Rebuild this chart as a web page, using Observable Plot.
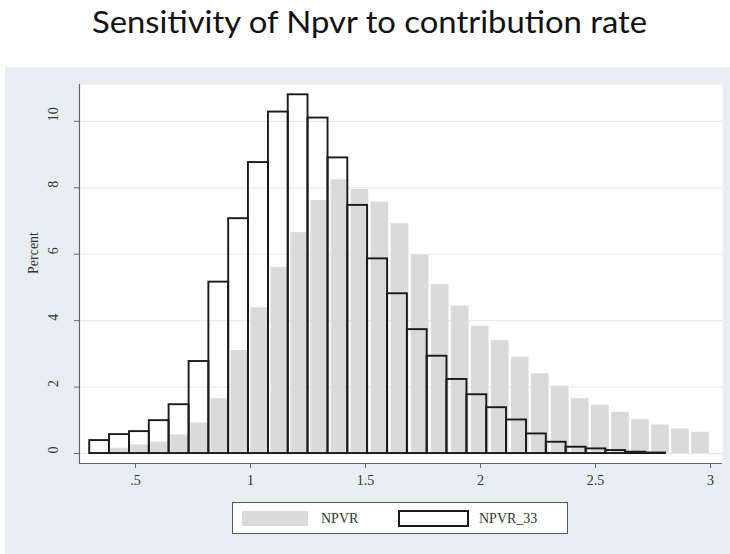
<!DOCTYPE html>
<html>
<head>
<meta charset="utf-8">
<script src="https://cdn.jsdelivr.net/npm/d3@7"></script>
<script src="https://cdn.jsdelivr.net/npm/@observablehq/plot@0.6"></script>
<style>
  html, body { margin: 0; padding: 0; background: #ffffff; }
  #wrap { position: relative; width: 730px; height: 554px; overflow: hidden; background: #fff; }
  #title { position: absolute; left: 0; top: 0; }
  #chart { position: absolute; left: 5px; top: 67px; }
  #legend { position: absolute; left: 232px; top: 502px; width: 334px; height: 30px;
            background: #fff; border: 1px solid #555; box-sizing: content-box; }
  .sw { position: absolute; }
  .lt { position: absolute; font-family: "Liberation Serif", "DejaVu Serif", serif; font-size: 14px; color: #333; line-height: 16px; }
</style>
</head>
<body>
<div id="wrap">
  <svg id="title" width="730" height="67">
    <text x="92" y="33" textLength="555" lengthAdjust="spacingAndGlyphs"
      font-family="Lato, 'Open Sans', sans-serif" font-size="30" fill="#111">Sensitivity of Npvr to contribution rate</text>
  </svg>
  <div id="chart"></div>
  <div id="legend">
    <div class="sw" style="left:9px; top:8px; width:66px; height:15px; background:#dadada;"></div>
    <div class="lt" style="left:88px; top:8px;">NPVR</div>
    <div class="sw" style="left:165px; top:7px; width:67px; height:13px; border:2px solid #1a1a1a; background:#fff;"></div>
    <div class="lt" style="left:246px; top:8px;">NPVR_33</div>
  </div>
</div>
<script>
// ---- data ----
// NPVR (grey bars): lower bin edges and percent heights
const npvrBinLo = [0.387, 0.474, 0.561, 0.648, 0.735, 0.823, 0.910, 0.997, 1.084, 1.171,
                   1.258, 1.345, 1.432, 1.519, 1.606, 1.694, 1.781, 1.868, 1.955, 2.042,
                   2.129, 2.216, 2.303, 2.390, 2.477, 2.565, 2.652, 2.739, 2.826, 2.913];
const npvrBinHi = [0.474, 0.561, 0.648, 0.735, 0.823, 0.910, 0.997, 1.084, 1.171, 1.258,
                   1.345, 1.432, 1.519, 1.606, 1.694, 1.781, 1.868, 1.955, 2.042, 2.129,
                   2.216, 2.303, 2.390, 2.477, 2.565, 2.652, 2.739, 2.826, 2.913, 3.000];
const npvrPct   = [0.16, 0.26, 0.34, 0.56, 0.92, 1.65, 3.10, 4.39, 5.60, 6.65,
                   7.62, 8.24, 7.95, 7.57, 6.92, 5.98, 5.09, 4.44, 3.83, 3.40,
                   2.90, 2.40, 2.03, 1.65, 1.45, 1.24, 1.02, 0.86, 0.74, 0.64];

// NPVR_33 (hollow bars): lower bin edges and percent heights
const npvr33BinLo = [0.301, 0.387, 0.474, 0.560, 0.646, 0.733, 0.819, 0.905, 0.991, 1.078,
                     1.164, 1.250, 1.337, 1.423, 1.509, 1.596, 1.682, 1.768, 1.854, 1.941,
                     2.027, 2.113, 2.200, 2.286, 2.372, 2.459, 2.545, 2.631, 2.718];
const npvr33BinHi = [0.387, 0.474, 0.560, 0.646, 0.733, 0.819, 0.905, 0.991, 1.078, 1.164,
                     1.250, 1.337, 1.423, 1.509, 1.596, 1.682, 1.768, 1.854, 1.941, 2.027,
                     2.113, 2.200, 2.286, 2.372, 2.459, 2.545, 2.631, 2.718, 2.804];
const npvr33Pct   = [0.39, 0.57, 0.66, 0.99, 1.47, 2.77, 5.16, 7.07, 8.76, 10.28,
                     10.80, 10.10, 8.90, 7.47, 5.86, 4.81, 3.73, 2.93, 2.23, 1.77,
                     1.38, 1.01, 0.59, 0.34, 0.19, 0.14, 0.09, 0.04, 0.015];

const yTicks = [0, 2, 4, 6, 8, 10];
const xTicks = [0.5, 1, 1.5, 2, 2.5, 3];
const xTickLabels = [".5", "1", "1.5", "2", "2.5", "3"];
const yLabel = "Percent";

// ---- build tables ----
const npvr = npvrPct.map((v, i) => ({x1: npvrBinLo[i], x2: npvrBinHi[i], y: v}));
const npvr33 = npvr33Pct.map((v, i) => ({x1: npvr33BinLo[i], x2: npvr33BinHi[i], y: v}));

const xDomain = [0.2565, 3.052];
const yDomain = [-0.30, 11.11];
const serif = "'Liberation Serif', 'DejaVu Serif', serif";

const chart = Plot.plot({
  width: 725,
  height: 487,
  marginLeft: 74,
  marginRight: 8,
  marginTop: 17,
  marginBottom: 91,
  style: {background: "#e8eff2", fontFamily: serif},
  x: {domain: xDomain, axis: null},
  y: {domain: yDomain, axis: null},
  marks: [
    Plot.frame({fill: "#ffffff", stroke: "none"}),
    Plot.ruleY(yTicks, {stroke: "#e3ecef", strokeWidth: 1.2}),
    Plot.rectY(npvr, {x1: "x1", x2: "x2", y1: 0, y2: "y", fill: "#dadada", insetLeft: 1.2, insetRight: 1.2}),
    Plot.rectY(npvr33, {x1: "x1", x2: "x2", y1: 0, y2: "y", fill: "none", stroke: "#1a1a1a", strokeWidth: 1.9}),
    Plot.ruleX([xDomain[0]], {stroke: "#666", strokeWidth: 1.2}),
    Plot.ruleY([yDomain[0]], {stroke: "#666", strokeWidth: 1.2}),
    Plot.axisX({ticks: xTicks, tickSize: 5, tickPadding: 7, stroke: "#666",
      tickFormat: (d) => xTickLabels[xTicks.indexOf(d)], fontSize: 14, fill: "#333", label: null}),
    Plot.axisY({ticks: yTicks, tickSize: 5, stroke: "#666", tickFormat: () => "", label: null}),
    Plot.text(yTicks, {y: d => d, text: d => String(d), frameAnchor: "left", dx: -26, rotate: -90,
      fontSize: 14, fill: "#333"}),
    Plot.text([yLabel], {text: d => d, frameAnchor: "left", dx: -46, rotate: -90, fontSize: 14, fill: "#333"})
  ]
});
document.getElementById("chart").appendChild(chart);
</script>
</body>
</html>
